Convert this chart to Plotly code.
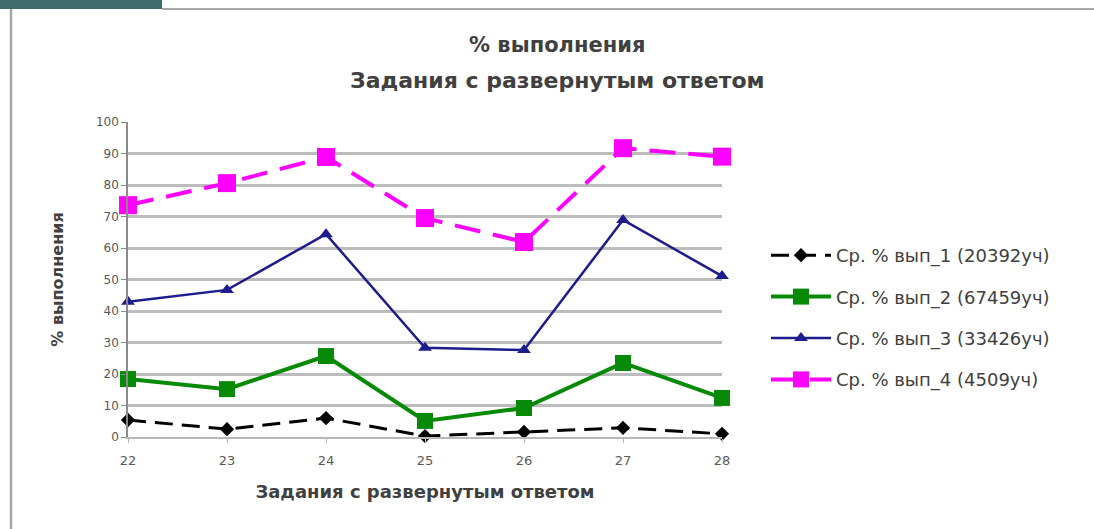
import plotly.graph_objects as go

# Task numbers on the x axis
tasks = [22, 23, 24, 25, 26, 27, 28]

# Average completion percentage for each group
names = [
    "Ср. % вып_1 (20392уч)",
    "Ср. % вып_2 (67459уч)",
    "Ср. % вып_3 (33426уч)",
    "Ср. % вып_4 (4509уч)",
]
group1 = [5.4, 2.5, 6.0, 0.3, 1.6, 2.9, 1.0]
group2 = [18.4, 15.2, 25.7, 5.1, 9.2, 23.5, 12.4]
group3 = [42.9, 46.7, 64.4, 28.3, 27.6, 68.9, 51.1]
group4 = [73.6, 80.6, 88.9, 69.5, 61.9, 91.7, 89.0]

y_ticks = [0, 10, 20, 30, 40, 50, 60, 70, 80, 90, 100]

W, H = 1094, 529
L, R, T, B = 128, 372, 122, 92
PW, PH = W - L - R, H - T - B


def px(x):
    return (x - L) / PW


def py(y):
    return (H - B - y) / PH


fig = go.Figure()

styles = [
    (group1, "#000000", dict(width=3, dash="18px,9px"), dict(symbol="diamond", size=11)),
    (group2, "#078a07", dict(width=4), dict(symbol="square", size=16)),
    (group3, "#1c1c8c", dict(width=2.5), dict(symbol="triangle-up", size=12)),
    (group4, "#ff00ff", dict(width=4, dash="26px,13px"), dict(symbol="square", size=18)),
]

for i, (name, (vals, color, line, marker)) in enumerate(zip(names, styles)):
    fig.add_trace(go.Scatter(
        x=tasks, y=vals, name=name, mode="lines+markers",
        legendgroup=f"g{i}",
        line=dict(color=color, **line),
        marker=dict(color=color, **marker),
        cliponaxis=False,
    ))

font_main = "DejaVu Sans"
text_col = "#404040"

fig.update_layout(
    width=W, height=H,
    margin=dict(l=L, r=R, t=T, b=B),
    paper_bgcolor="white",
    plot_bgcolor="white",
    showlegend=True,
    legend=dict(
        x=px(766), y=py(237), xanchor="left", yanchor="top",
        font=dict(family=font_main, size=18, color=text_col),
        itemwidth=60, tracegroupgap=15,
        bgcolor="rgba(0,0,0,0)",
    ),
    xaxis=dict(
        range=[22, 28], tickvals=tasks, ticktext=[str(t) for t in tasks],
        showgrid=False, zeroline=False,
        showline=True, linecolor="#b8b8b8", linewidth=2,
        ticks="outside", ticklen=4, tickcolor="#b8b8b8",
        ticklabelstandoff=6,
        tickfont=dict(family=font_main, size=13, color="#595959"),
        title=dict(text="<b>Задания с развернутым ответом</b>",
                   font=dict(family=font_main, size=18, color=text_col),
                   standoff=19),
    ),
    yaxis=dict(
        range=[0, 100], tickvals=y_ticks,
        showgrid=True, gridcolor="#bcbcbc", gridwidth=2.5,
        zeroline=False,
        showline=True, linecolor="#8a8a8a", linewidth=1.5,
        ticks="outside", ticklen=5, tickcolor="#8a8a8a",
        tickfont=dict(family=font_main, size=12, color="#595959"),
        title=dict(text="<b>% выполнения</b>",
                   font=dict(family=font_main, size=16, color=text_col),
                   standoff=28),
    ),
    annotations=[
        dict(text="<b>% выполнения</b>", x=px(557), y=py(45),
             xref="paper", yref="paper", showarrow=False,
             xanchor="center", yanchor="middle",
             font=dict(family=font_main, size=21, color=text_col)),
        dict(text="<b>Задания с развернутым ответом</b>", x=px(557), y=py(80),
             xref="paper", yref="paper", showarrow=False,
             xanchor="center", yanchor="middle",
             font=dict(family=font_main, size=22, color=text_col)),
    ],
    shapes=[
        # dark tab in the top-left corner
        dict(type="rect", xref="paper", yref="paper",
             x0=px(0), x1=px(162), y0=py(0), y1=py(9),
             fillcolor="#3f6d6d", line=dict(width=0), layer="above"),
        # top frame line
        dict(type="line", xref="paper", yref="paper",
             x0=px(162), x1=px(1094), y0=py(9), y1=py(9),
             line=dict(color="#a8a8a8", width=2)),
        # left frame line
        dict(type="line", xref="paper", yref="paper",
             x0=px(11), x1=px(11), y0=py(9), y1=py(529),
             line=dict(color="#a8a8a8", width=2.5)),
    ],
)

fig.write_html("out.html")
